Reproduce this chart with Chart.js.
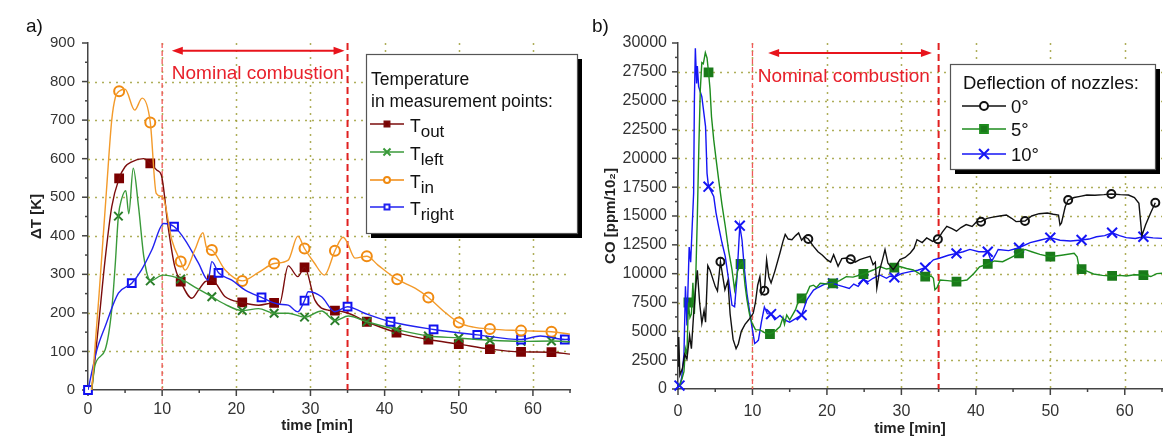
<!DOCTYPE html>
<html>
<head>
<meta charset="utf-8">
<script src="https://cdn.jsdelivr.net/npm/chart.js@4/dist/chart.umd.min.js"></script>
<style>
  html, body { margin: 0; padding: 0; background: #fff; }
  #wrap { position: relative; width: 1176px; height: 436px; }
  #wrap canvas { position: absolute; top: 0; }
</style>
</head>
<body>
<div id="wrap">
  <canvas id="chartA" width="588" height="436" style="left:0"></canvas>
  <canvas id="chartB" width="588" height="436" style="left:588px"></canvas>
</div>
<script>
// ---------- panel a) temperature ----------
const outT = [0.5, 1.4, 2.3, 3.2, 4.2, 5.0, 5.9, 7.5, 8.4, 9.3, 9.9, 10.8, 11.7, 12.5, 14.0, 14.9, 15.8, 16.7, 18.5, 20.8, 23.0, 25.1, 25.8, 27.0, 28.3, 29.2, 30.6, 32.4, 33.3, 35.1, 37.6, 41.6, 45.9, 50.0, 54.2, 58.4, 62.5, 65];
const outV = [0, 164, 337, 475, 549, 579, 592, 600, 588, 570, 557, 424, 320, 281, 238, 259, 281, 285, 242, 227, 220, 226, 222, 322, 294, 318, 233, 207, 206, 199, 177, 149, 131, 119, 106, 99, 98, 93];
const outMarkT = [4.2, 8.4, 12.5, 16.7, 20.8, 25.1, 29.2, 33.3, 37.6, 41.6, 45.9, 50.0, 54.2, 58.4, 62.5];
const outMarkV = [549, 588, 281, 285, 227, 226, 318, 206, 177, 149, 131, 119, 106, 99, 98];

const leftT = [0.5, 0.95, 2.3, 3.2, 3.65, 4.1, 4.5, 5.1, 5.5, 6.1, 6.8, 7.5, 7.9, 8.4, 10.1, 12.5, 14.4, 16.7, 18.5, 20.8, 23.0, 25.1, 27.0, 29.2, 31.5, 33.3, 35.1, 37.6, 41.6, 45.9, 50.0, 54.2, 58.4, 62.5, 65];
const leftV = [0, 65, 104, 208, 319, 451, 493, 517, 457, 575, 478, 349, 306, 283, 298, 288, 267, 242, 222, 206, 211, 199, 199, 189, 205, 180, 192, 177, 157, 140, 135, 129, 126, 127, 125];
const leftMarkT = [4.1, 8.4, 12.5, 16.7, 20.8, 25.1, 29.2, 33.3, 37.6, 41.6, 45.9, 50.0, 54.2, 58.4, 62.5];
const leftMarkV = [451, 283, 288, 242, 206, 199, 189, 180, 177, 157, 140, 135, 129, 126, 127];

const inT = [0.5, 1.5, 2.5, 3.2, 3.7, 4.2, 5.0, 6.3, 7.3, 8.4, 9.2, 10.1, 11.3, 12.5, 13.1, 14.4, 15.5, 16.0, 16.7, 18.5, 20.8, 23.0, 25.1, 27.0, 28.3, 29.2, 30.5, 31.9, 33.3, 34.4, 34.9, 36.0, 37.6, 39.1, 41.6, 44.1, 45.9, 48.3, 50.0, 52.0, 54.2, 58.4, 62.5, 65];
const inV = [0, 250, 520, 700, 760, 775, 780, 726, 757, 694, 510, 500, 389, 333, 311, 363, 408, 369, 363, 311, 283, 305, 328, 337, 399, 367, 330, 298, 361, 396, 385, 342, 347, 324, 288, 264, 240, 199, 175, 163, 158, 154, 151, 145];
const inMarkT = [4.2, 8.4, 12.5, 16.7, 20.8, 25.1, 29.2, 33.3, 37.6, 41.7, 45.9, 50.0, 54.2, 58.4, 62.5];
const inMarkV = [775, 694, 333, 363, 283, 328, 367, 361, 347, 287, 240, 175, 158, 154, 151];

const rightT = [0, 1.2, 2.3, 4.1, 5.9, 7.2, 8.6, 10.2, 11.6, 13.1, 14.9, 16.2, 16.7, 17.6, 19.4, 21.2, 23.4, 25.6, 27.0, 28.3, 29.2, 29.7, 31.5, 33.3, 35.0, 37.3, 40.8, 46.6, 52.5, 58.4, 61.0, 64.3, 65];
const rightV = [0, 104, 164, 251, 277, 311, 363, 432, 424, 389, 329, 285, 333, 304, 285, 259, 240, 223, 220, 203, 232, 255, 242, 203, 216, 199, 177, 157, 143, 131, 140, 131, 132];
const rightMarkT = [0, 5.9, 11.6, 17.6, 23.4, 29.2, 35.0, 40.8, 46.6, 52.5, 58.4, 64.3];
const rightMarkV = [0, 277, 424, 304, 240, 232, 216, 177, 157, 143, 131, 131];

// ---------- panel b) CO ----------
const deg0T = [0, 0.1, 0.25, 0.6, 0.9, 1.2, 1.56, 1.8, 2.1, 2.4, 2.6, 2.9, 3.2, 3.5, 3.7, 4.0, 4.3, 4.6, 5.0, 5.3, 5.7, 6.0, 6.3, 6.7, 7.0, 7.4, 7.8, 8.1, 8.5, 9.0, 9.5, 10.1, 10.4, 10.7, 11.0, 11.2, 11.6, 11.9, 12.2, 12.5, 13.0, 13.7, 14.1, 14.4, 14.8, 15.3, 15.8, 16.2, 16.6, 17.0, 17.5, 18.2, 18.8, 19.4, 20.0, 20.5, 20.9, 21.5, 22.0, 22.6, 23.2, 23.8, 24.4, 25.0, 25.8, 26.2, 26.5, 26.7, 27.1, 27.5, 27.8, 28.2, 28.9, 29.3, 29.8, 30.5, 31.2, 31.7, 32.1, 32.8, 33.4, 34.2, 34.9, 35.5, 36.1, 36.8, 37.4, 38.0, 38.7, 39.5, 40.1, 40.7, 41.5, 42.3, 43.2, 44.1, 44.8, 45.4, 46.6, 47.5, 48.5, 49.6, 50.4, 51.1, 51.3, 51.5, 52.0, 52.4, 53.2, 54.0, 54.9, 56.0, 57.2, 58.2, 59.4, 60.5, 61.3, 61.9, 62.3, 62.8, 63.5, 64.1];
const deg0V = [2000, 4500, 1200, 1800, 3000, 2600, 4650, 3500, 6500, 9000, 10300, 7500, 5700, 6800, 5800, 10700, 10300, 9700, 8900, 8500, 11040, 9800, 8600, 9400, 6500, 4300, 3500, 3900, 5000, 5600, 6000, 6560, 7500, 9000, 9740, 8200, 8525, 11200, 9700, 9200, 10200, 11818, 12800, 13400, 13000, 12950, 13300, 13530, 12900, 13200, 13006, 12370, 11900, 11600, 11216, 11000, 11650, 10640, 11300, 11360, 11243, 11000, 11216, 11350, 11500, 10780, 11000, 8760, 10350, 11300, 12080, 10900, 10350, 10700, 11216, 11400, 11800, 12200, 12950, 12700, 13100, 12800, 12980, 13600, 14100, 13900, 13680, 14000, 14260, 14100, 14500, 14507, 14800, 14900, 15000, 15087, 14800, 14510, 14567, 15000, 15200, 15260, 15150, 15087, 14220, 14400, 15800, 16388, 16600, 16700, 16820, 16800, 16850, 16908, 16850, 16820, 16600, 16100, 13300, 14250, 15300, 16156];
const deg0MarkT = [5.7, 11.6, 17.5, 23.2, 34.9, 40.7, 46.6, 52.4, 58.2, 64.1];
const deg0MarkV = [11040, 8525, 13006, 11243, 12980, 14507, 14567, 16388, 16908, 16156];

const deg5T = [0.2, 0.5, 0.8, 1.0, 1.2, 1.4, 1.6, 1.8, 2.0, 2.2, 2.4, 2.6, 2.8, 3.0, 3.2, 3.4, 3.67, 3.9, 4.1, 4.3, 4.5, 4.8, 5.1, 5.46, 5.9, 6.35, 6.8, 7.25, 7.6, 8.0, 8.4, 8.7, 9.0, 9.26, 9.6, 9.93, 10.4, 11.0, 11.6, 12.35, 13.0, 13.7, 14.1, 14.3, 14.6, 15.0, 15.5, 15.8, 16.2, 16.6, 17.3, 17.7, 18.2, 18.6, 19.1, 20.0, 20.8, 21.7, 22.6, 23.5, 24.9, 26.2, 27.1, 28.0, 29.05, 29.8, 30.7, 31.6, 32.4, 33.2, 34.0, 34.3, 34.5, 34.8, 35.2, 36.2, 37.4, 38.8, 39.7, 40.5, 41.6, 42.5, 43.6, 44.7, 45.8, 46.6, 47.5, 48.6, 50.0, 51.5, 53.2, 53.6, 53.9, 54.2, 55.0, 55.8, 57.0, 58.3, 59.3, 60.2, 61.3, 62.5, 63.5, 64.3, 65];
const deg5V = [300, 800, 1500, 3500, 3000, 7500, 6200, 6500, 9200, 6500, 10000, 15000, 21000, 26000, 28300, 28200, 29160, 28700, 27460, 26000, 23610, 21600, 20000, 18150, 16000, 14110, 12000, 10350, 8610, 10200, 10838, 11040, 9000, 7750, 6500, 5730, 5150, 5120, 4900, 4770, 5000, 5410, 6200, 5600, 6420, 6000, 6560, 6900, 7720, 7860, 8290, 8900, 9000, 8800, 9164, 9100, 9164, 9400, 9740, 9700, 9970, 10318, 10620, 10400, 10520, 10620, 10450, 10318, 10000, 9740, 9800, 9600, 8600, 8800, 9450, 9400, 9310, 9450, 10000, 10600, 10840, 11100, 11040, 11400, 11760, 12100, 11900, 11670, 11470, 11600, 11760, 11470, 10460, 10400, 10200, 9970, 9850, 9800, 9850, 9800, 9900, 9880, 9750, 10000, 10030];
const deg5MarkT = [1.4, 4.1, 8.4, 12.35, 16.6, 20.8, 24.9, 29.05, 33.2, 37.4, 41.6, 45.8, 50.0, 54.2, 58.3, 62.5];
const deg5MarkV = [7500, 27460, 10838, 4770, 7860, 9164, 9970, 10520, 9740, 9310, 10840, 11760, 11470, 10400, 9800, 9880];

const deg10T = [0.2, 0.5, 0.8, 1.0, 1.2, 1.5, 1.7, 1.9, 2.1, 2.2, 2.33, 2.5, 2.6, 2.77, 3.2, 3.7, 3.9, 4.1, 4.4, 4.8, 5.1, 5.46, 5.9, 6.35, 6.8, 7.25, 7.6, 7.9, 8.3, 8.6, 8.9, 9.26, 9.6, 9.93, 10.3, 10.6, 10.8, 11.2, 11.6, 12.0, 12.5, 13.0, 13.7, 14.3, 15.0, 15.8, 16.6, 17.3, 17.8, 18.2, 18.8, 19.5, 20.2, 20.8, 21.5, 22.2, 23.0, 23.6, 24.2, 24.9, 25.5, 26.2, 27.1, 28.0, 28.5, 29.05, 30.0, 31.2, 32.2, 33.2, 34.3, 35.2, 36.3, 37.4, 38.3, 39.2, 40.4, 41.6, 42.1, 42.6, 43.0, 44.4, 45.8, 47.3, 48.6, 50.0, 51.3, 52.7, 54.2, 55.2, 56.2, 57.3, 58.3, 59.3, 60.2, 61.4, 62.5, 63.8, 65];
const deg10V = [200, 1000, 3000, 8900, 5500, 12300, 11000, 14000, 17000, 25000, 29540, 26500, 28000, 26220, 25350, 22750, 18700, 17540, 17200, 16690, 15300, 14080, 12700, 11480, 9450, 7280, 7130, 9500, 14160, 12900, 10500, 8280, 6800, 5390, 3940, 4100, 4240, 5800, 7110, 6530, 6500, 6000, 6380, 6000, 5800, 6100, 6410, 7720, 8200, 8580, 8800, 9020, 9200, 9164, 9000, 8870, 8720, 9100, 8900, 9510, 9300, 9600, 9890, 9600, 9800, 9680, 10000, 10180, 10300, 10520, 11200, 11360, 11600, 11760, 11900, 12100, 11900, 11900, 11040, 11600, 12100, 12000, 12250, 12690, 12900, 13120, 12900, 12830, 12920, 13000, 13200, 13300, 13550, 13300, 13120, 13050, 13200, 13100, 13060];
const deg10MarkT = [0.2, 4.1, 8.3, 12.5, 16.6, 20.8, 24.9, 29.05, 33.2, 37.4, 41.6, 45.8, 50.0, 54.2, 58.3, 62.5];
const deg10MarkV = [300, 17540, 14160, 6500, 6410, 9164, 9510, 9680, 10520, 11760, 11900, 12250, 13120, 12920, 13550, 13200];

// nominal combustion window [min]
const nominalStart = 10;
const nominalEnd = 35;

const FONT = '"Liberation Sans", Arial, sans-serif';
const GRID = 'rgba(160,160,60,0.85)';
const AXIS = '#444';

function pts(ts, vs) {
    return ts.map((t, i) => ({ x: t, y: vs[i] }));
}

function lineDs(ts, vs, color, smooth) {
    return {
        data: pts(ts, vs),
        borderColor: color,
        borderWidth: 1.4,
        pointRadius: 0,
        fill: false,
        tension: smooth ? 0.4 : 0,
        cubicInterpolationMode: smooth ? 'monotone' : 'default'
    };
}

function markDs(ts, vs, style, color, bg, r) {
    return {
        data: pts(ts, vs),
        showLine: false,
        pointStyle: style,
        pointRadius: r,
        pointHoverRadius: r,
        pointBorderColor: color,
        pointBackgroundColor: bg,
        pointBorderWidth: 2,
        clip: false
    };
}

// draws grid, ticks, red window, legend, titles
function decor(cfg) {
    return {
        id: 'decor',
        beforeDatasetsDraw(chart) {
            const ctx = chart.ctx;
            const xs = chart.scales.x, ys = chart.scales.y;
            const a = chart.chartArea;
            ctx.save();
            ctx.strokeStyle = GRID;
            ctx.lineWidth = 1.5;
            ctx.setLineDash([2, 5]);
            for (let v = cfg.yMajor; v < cfg.yMax; v += cfg.yMajor) {
                const y = Math.round(ys.getPixelForValue(v)) + 0.5;
                ctx.beginPath(); ctx.moveTo(a.left, y); ctx.lineTo(a.right, y); ctx.stroke();
            }
            for (let v = 10; v < 65; v += 10) {
                const x = Math.round(xs.getPixelForValue(v)) + 0.5;
                ctx.beginPath(); ctx.moveTo(x, a.top); ctx.lineTo(x, a.bottom); ctx.stroke();
            }
            // nominal combustion borders
            const lines = [[nominalStart, '#f05a5a', 1.3, [5, 3]], [nominalEnd, '#e02020', 2, [7, 4]]];
            lines.forEach(([t, c, w, d]) => {
                const x = xs.getPixelForValue(t);
                ctx.strokeStyle = c; ctx.lineWidth = w; ctx.setLineDash(d);
                ctx.beginPath(); ctx.moveTo(x, a.top); ctx.lineTo(x, a.bottom); ctx.stroke();
            });
            ctx.setLineDash([]);
            // tick marks
            ctx.strokeStyle = AXIS; ctx.lineWidth = 1.5;
            for (let v = 0; v <= cfg.yMax; v += cfg.yMajor / 2) {
                const y = ys.getPixelForValue(v);
                const len = v % cfg.yMajor === 0 ? 6 : 3;
                ctx.beginPath(); ctx.moveTo(a.left - len, y); ctx.lineTo(a.left, y); ctx.stroke();
            }
            for (let v = 0; v <= 65; v += 5) {
                const x = xs.getPixelForValue(v);
                const len = v % 10 === 0 ? 6 : 3;
                ctx.beginPath(); ctx.moveTo(x, a.bottom); ctx.lineTo(x, a.bottom + len); ctx.stroke();
            }
            ctx.restore();
        },
        afterDraw(chart) {
            const ctx = chart.ctx;
            const xs = chart.scales.x, ys = chart.scales.y;
            const a = chart.chartArea;
            ctx.save();
            // arrow + caption
            const ay = ys.getPixelForValue(cfg.arrowY);
            const x1 = xs.getPixelForValue(cfg.arrowFrom), x2 = xs.getPixelForValue(cfg.arrowTo);
            ctx.strokeStyle = '#e8141c'; ctx.fillStyle = '#e8141c'; ctx.lineWidth = 2;
            ctx.beginPath(); ctx.moveTo(x1 + 6, ay); ctx.lineTo(x2 - 6, ay); ctx.stroke();
            ctx.beginPath(); ctx.moveTo(x1, ay); ctx.lineTo(x1 + 11, ay - 4); ctx.lineTo(x1 + 11, ay + 4); ctx.closePath(); ctx.fill();
            ctx.beginPath(); ctx.moveTo(x2, ay); ctx.lineTo(x2 - 11, ay - 4); ctx.lineTo(x2 - 11, ay + 4); ctx.closePath(); ctx.fill();
            ctx.fillStyle = '#e8202a';
            ctx.font = '19px ' + FONT;
            ctx.textBaseline = 'alphabetic';
            ctx.textAlign = 'left';
            ctx.fillText('Nominal combustion', xs.getPixelForValue(cfg.captionX), cfg.captionBase);

            // panel letter
            ctx.fillStyle = '#111';
            ctx.font = '19px ' + FONT;
            ctx.fillText(cfg.panel, cfg.panelX, 32);

            // axis titles
            ctx.font = 'bold 15px ' + FONT;
            ctx.textAlign = 'center';
            ctx.fillStyle = '#222';
            ctx.fillText('time [min]', (a.left + a.right) / 2 + cfg.xTitleShift, cfg.xTitleBase);
            ctx.save();
            ctx.translate(cfg.yTitleX, (a.top + a.bottom) / 2);
            ctx.rotate(-Math.PI / 2);
            ctx.textBaseline = 'middle';
            ctx.fillText(cfg.yTitle, 0, 0);
            ctx.restore();

            // legend
            const L = cfg.legend;
            ctx.fillStyle = '#000';
            ctx.fillRect(L.x + 5, L.y + 5, L.w, L.h);
            ctx.fillStyle = '#fff';
            ctx.fillRect(L.x, L.y, L.w, L.h);
            ctx.strokeStyle = '#555'; ctx.lineWidth = 1.2;
            ctx.strokeRect(L.x + 0.5, L.y + 0.5, L.w, L.h);
            ctx.fillStyle = '#111';
            ctx.textAlign = 'left';
            ctx.textBaseline = 'alphabetic';
            ctx.font = L.font + 'px ' + FONT;
            L.heads.forEach((h, i) => ctx.fillText(h, L.textX0, L.headBase[i]));
            L.rows.forEach((r, i) => {
                const y = L.rowY[i];
                ctx.strokeStyle = r.color; ctx.lineWidth = 1.4;
                ctx.beginPath(); ctx.moveTo(L.lineX0, y); ctx.lineTo(L.lineX1, y); ctx.stroke();
                ctx.strokeStyle = r.color; ctx.fillStyle = r.bg; ctx.lineWidth = 2;
                Chart.helpers.drawPoint(ctx, { pointStyle: r.style, radius: r.r, rotation: 0, borderWidth: 2 },
                    (L.lineX0 + L.lineX1) / 2, y);
                ctx.fillStyle = '#111';
                ctx.font = L.font + 'px ' + FONT;
                ctx.fillText(r.main, L.textX, y + L.baseShift);
                if (r.sub) {
                    const w = ctx.measureText(r.main).width;
                    ctx.font = L.subFont + 'px ' + FONT;
                    ctx.fillText(r.sub, L.textX + w, y + L.baseShift + 5);
                }
            });
            ctx.restore();
        }
    };
}

function axes(yMax, yStep, yTickSize, xTickSize, yWidth, xHeight, yPad, xPad) {
    const tickFont = (s) => ({ family: FONT, size: s });
    return {
        x: {
            type: 'linear', min: 0, max: 65,
            grid: { display: false },
            border: { display: true, color: AXIS, width: 1.5 },
            ticks: {
                stepSize: 10, autoSkip: false, maxRotation: 0, padding: xPad,
                color: '#333', font: tickFont(xTickSize),
                callback: (v) => (v % 10 === 0 ? v : '')
            },
            afterFit: (s) => { s.height = xHeight; }
        },
        y: {
            min: 0, max: yMax,
            grid: { display: false },
            border: { display: true, color: AXIS, width: 1.5 },
            ticks: {
                stepSize: yStep, autoSkip: false, padding: yPad,
                color: '#333', font: tickFont(yTickSize),
                callback: (v) => (v % yStep === 0 ? v : '')
            },
            afterFit: (s) => { s.width = yWidth; }
        }
    };
}

const common = {
    responsive: false,
    animation: false,
    events: [],
    plugins: { legend: { display: false }, tooltip: { enabled: false } }
};

new Chart(document.getElementById('chartA'), {
    type: 'line',
    data: {
        datasets: [
            lineDs(inT, inV, '#f39a2a', true),
            lineDs(rightT, rightV, '#2222f0', true),
            lineDs(leftT, leftV, '#3a9a3a', true),
            lineDs(outT, outV, '#7b0c0c', true),
            markDs(inMarkT, inMarkV, 'circle', '#f08a10', '#fff', 5),
            markDs(rightMarkT, rightMarkV, 'rect', '#1010f0', '#fff', 5.5),
            markDs(leftMarkT, leftMarkV, 'crossRot', '#2a7d2a', '#2a7d2a', 6),
            markDs(outMarkT, outMarkV, 'rect', '#7b0000', '#7b0000', 5.5)
        ]
    },
    options: Object.assign({}, common, {
        layout: { padding: { left: 0, right: 18, top: 43, bottom: 0 } },
        scales: axes(900, 100, 15, 16, 88, 46, 5, 2)
    }),
    plugins: [decor({
        panel: 'a)', panelX: 26,
        yMax: 900, yMajor: 100,
        arrowY: 880, arrowFrom: 11.3, arrowTo: 34.6,
        captionX: 11.3, captionBase: 79,
        xTitleShift: -12, xTitleBase: 430,
        yTitle: 'ΔT [K]', yTitleX: 37,
        legend: {
            x: 366, y: 54, w: 211, h: 179,
            font: 17.5, subFont: 17,
            heads: ['Temperature', 'in measurement points:'], headBase: [85, 107], textX0: 371,
            lineX0: 370, lineX1: 404, textX: 410, baseShift: 8,
            rowY: [124, 152, 180, 207],
            rows: [
                { main: 'T', sub: 'out', color: '#7b0c0c', bg: '#7b0000', style: 'rect', r: 3.5 },
                { main: 'T', sub: 'left', color: '#3a9a3a', bg: '#3a9a3a', style: 'crossRot', r: 5 },
                { main: 'T', sub: 'in', color: '#f08a10', bg: '#fff', style: 'circle', r: 3 },
                { main: 'T', sub: 'right', color: '#2222f0', bg: '#fff', style: 'rect', r: 3.5 }
            ]
        }
    })]
});

new Chart(document.getElementById('chartB'), {
    type: 'line',
    data: {
        datasets: [
            lineDs(deg0T, deg0V, '#111', false),
            lineDs(deg5T, deg5V, '#1e8c1e', false),
            lineDs(deg10T, deg10V, '#1515f5', false),
            markDs(deg0MarkT, deg0MarkV, 'circle', '#111', '#fff', 4),
            markDs(deg5MarkT, deg5MarkV, 'rect', '#1a7a1a', '#1a7a1a', 5.5),
            markDs(deg10MarkT, deg10MarkV, 'crossRot', '#1515f5', '#1515f5', 7)
        ]
    },
    options: Object.assign({}, common, {
        layout: { padding: { left: 0, right: 14, top: 43, bottom: 0 } },
        scales: axes(30000, 2500, 16, 16, 90, 47, 3, 5)
    }),
    plugins: [decor({
        panel: 'b)', panelX: 4,
        yMax: 30000, yMajor: 2500,
        arrowY: 29130, arrowFrom: 12.1, arrowTo: 34.1,
        captionX: 10.7, captionBase: 82,
        xTitleShift: -10, xTitleBase: 433,
        yTitle: 'CO [ppm/10₂]', yTitleX: 23,
        legend: {
            x: 362, y: 64, w: 205, h: 105,
            font: 18.5, subFont: 18,
            heads: ['Deflection of nozzles:'], headBase: [89], textX0: 375,
            lineX0: 374, lineX1: 418, textX: 423, baseShift: 7,
            rowY: [106, 129, 154],
            rows: [
                { main: '0°', color: '#111', bg: '#fff', style: 'circle', r: 4 },
                { main: '5°', color: '#1e8c1e', bg: '#1a7a1a', style: 'rect', r: 5.5 },
                { main: '10°', color: '#1515f5', bg: '#1515f5', style: 'crossRot', r: 7 }
            ]
        }
    })]
});
</script>
</body>
</html>
